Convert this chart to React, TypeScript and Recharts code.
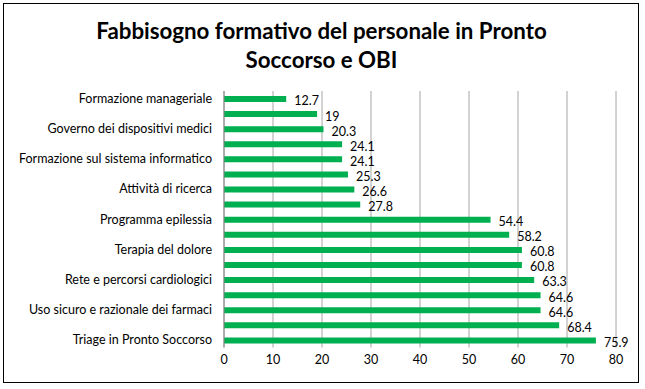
import { Bar, BarChart, CartesianGrid, LabelList, XAxis, YAxis } from 'recharts'

// top to bottom; Excel only printed every other category name
const categories = [
  'Formazione manageriale',
  '',
  'Governo dei dispositivi medici',
  '',
  'Formazione sul sistema informatico',
  '',
  'Attività di ricerca',
  '',
  'Programma epilessia',
  '',
  'Terapia del dolore',
  '',
  'Rete e percorsi cardiologici',
  '',
  'Uso sicuro e razionale dei farmaci',
  '',
  'Triage in Pronto Soccorso',
]

const values = [12.7, 19, 20.3, 24.1, 24.1, 25.3, 26.6, 27.8, 54.4, 58.2, 60.8, 60.8, 63.3, 64.6, 64.6, 68.4, 75.9]

const xTicks = [0, 10, 20, 30, 40, 50, 60, 70, 80]

const data = categories.map((name, i) => ({ name, value: values[i] }))

const font = 'Lato, "Open Sans", sans-serif'

// plain text tick so long names stay on one line
function CategoryTick(props: any) {
  const { x, y, payload } = props
  return (
    <text x={x} y={y} dy="0.35em" textAnchor="end" fontSize={12.5} fill="#000" fontFamily={font}>
      {payload.value}
    </text>
  )
}

export default function App() {
  return (
    <div
      style={{
        position: 'absolute',
        left: 0,
        top: 0,
        width: 645,
        height: 389,
        background: '#fff',
        fontFamily: font,
      }}
    >
      <div
        style={{
          position: 'absolute',
          left: 3,
          top: 3,
          width: 634,
          height: 378,
          border: '1px solid #000',
        }}
      />
      <div
        style={{
          position: 'absolute',
          left: 0,
          width: 643,
          top: 16,
          textAlign: 'center',
          fontSize: 22.3,
          fontWeight: 'bold',
          lineHeight: '29px',
          color: '#000',
        }}
      >
        Fabbisogno formativo del personale in Pronto
        <br />
        Soccorso e OBI
      </div>
      <div style={{ position: 'absolute', left: 0, top: 0 }}>
        <BarChart
          width={645}
          height={389}
          data={data}
          layout="vertical"
          margin={{ top: 91, right: 29, bottom: 11.5, left: 0 }}
          barCategoryGap="60%"
        >
          <CartesianGrid horizontal={false} stroke="#a6a6a6" strokeWidth={1} />
          <XAxis
            type="number"
            domain={[0, 80]}
            ticks={xTicks}
            height={30}
            axisLine={false}
            tickLine={false}
            tick={{ fontSize: 12.5, fill: '#000', fontFamily: font }}
          />
          <YAxis
            type="category"
            dataKey="name"
            width={224}
            interval={0}
            tickLine={false}
            tickMargin={6}
            axisLine={{ stroke: '#868686' }}
            tick={<CategoryTick />}
          />
          <Bar dataKey="value" fill="#00b050" barSize={6} isAnimationActive={false}>
            <LabelList
              dataKey="value"
              position="right"
              offset={8}
              dy={2}
              style={{ fontSize: 12.5, fill: '#000', fontFamily: font }}
            />
          </Bar>
        </BarChart>
      </div>
    </div>
  )
}
